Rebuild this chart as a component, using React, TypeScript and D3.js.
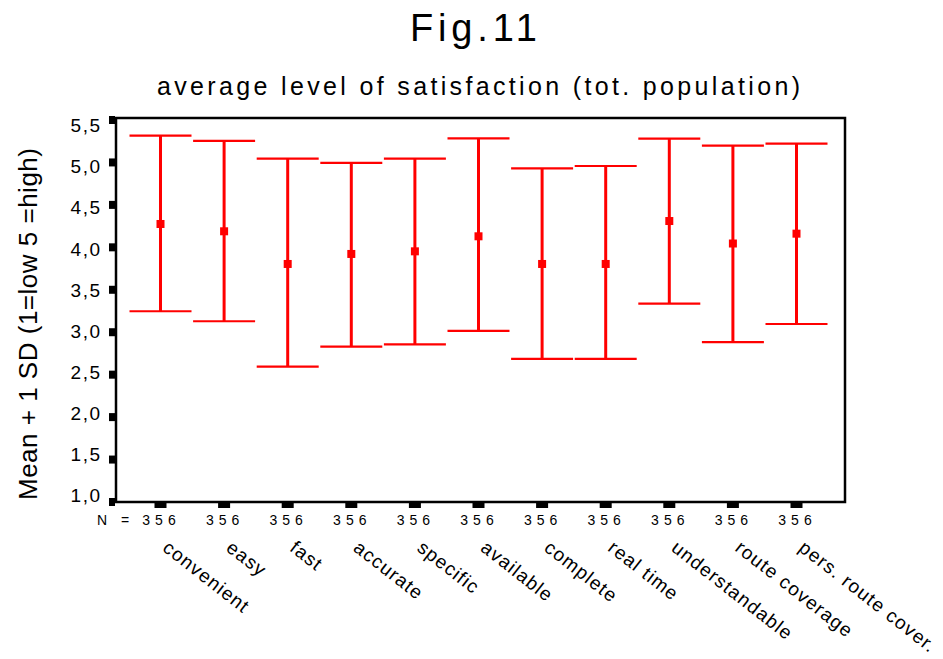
import React, { useEffect, useRef } from 'react';
import * as d3 from 'd3';

// items rated, and the count shown under each
const categories = [
    'convenient', 'easy', 'fast', 'accurate', 'specific', 'available',
    'complete', 'real time', 'understandable', 'route coverage', 'pers. route cover.',
];
const counts = [356, 356, 356, 356, 356, 356, 356, 356, 356, 356, 356];

// mean and the ends of the +/- 1 SD bars
const means = [4.275, 4.189, 3.804, 3.922, 3.953, 4.13, 3.804, 3.804, 4.31, 4.045, 4.161];
const upper = [5.315, 5.253, 5.044, 4.994, 5.044, 5.284, 4.929, 4.958, 5.28, 5.197, 5.221];
const lower = [3.247, 3.129, 2.594, 2.83, 2.858, 3.015, 2.685, 2.685, 3.336, 2.883, 3.097];

const yTicks = [1.0, 1.5, 2.0, 2.5, 3.0, 3.5, 4.0, 4.5, 5.0, 5.5];

const FONT = '"Liberation Sans", Arial, sans-serif';

const App = () => {
    const svgRef = useRef<SVGSVGElement>(null);

    useEffect(() => {
        const svg = d3.select(svgRef.current);
        svg.selectAll('*').remove();

        const frame = { left: 116, right: 845, top: 118, bottom: 502 };

        const x = d3.scalePoint().domain(categories).range([160.5, 796.5]);
        const y = d3.scaleLinear().domain([1, 5.5]).range([502, 120]);
        // tick labels sit on a slightly tighter spacing than the tick marks
        const yLab = d3.scaleLinear().domain([1, 5.5]).range([495, 125.5]);

        const rows = categories.map((c, i) => ({
            c, n: counts[i], mean: means[i], hi: upper[i], lo: lower[i],
        }));

        // titles
        svg.append('text')
            .attr('x', 410).attr('y', 41)
            .attr('textLength', 127).attr('lengthAdjust', 'spacing')
            .style('font-family', FONT).style('font-size', '38px')
            .text('Fig.11');

        svg.append('text')
            .attr('x', 157).attr('y', 95)
            .attr('textLength', 643).attr('lengthAdjust', 'spacing')
            .style('font-family', FONT).style('font-size', '25px')
            .text('average level of satisfaction (tot. population)');

        svg.append('text')
            .attr('transform', 'translate(37,500) rotate(-90)')
            .attr('textLength', 352).attr('lengthAdjust', 'spacing')
            .style('font-family', FONT).style('font-size', '26px')
            .text('Mean + 1 SD (1=low 5 =high)');

        // y ticks: black blocks outside the frame
        svg.append('g')
            .selectAll('rect')
            .data(yTicks)
            .enter()
            .append('rect')
            .attr('x', frame.left - 7)
            .attr('y', d => y(d) - 4)
            .attr('width', 6)
            .attr('height', 8)
            .attr('fill', '#000');

        svg.append('g')
            .selectAll('text')
            .data(yTicks)
            .enter()
            .append('text')
            .attr('x', 101.5)
            .attr('y', d => yLab(d))
            .attr('dy', '0.36em')
            .attr('text-anchor', 'end')
            .style('font-family', FONT).style('font-size', '19px')
            .style('letter-spacing', '1.5px')
            .text(d => d3.format('.1f')(d).replace('.', ','));

        // x ticks
        svg.append('g')
            .selectAll('rect')
            .data(categories)
            .enter()
            .append('rect')
            .attr('x', d => (x(d) as number) - 6)
            .attr('y', frame.bottom + 1)
            .attr('width', 12)
            .attr('height', 5)
            .attr('fill', '#000');

        // frame
        svg.append('rect')
            .attr('x', frame.left).attr('y', frame.top)
            .attr('width', frame.right - frame.left)
            .attr('height', frame.bottom - frame.top)
            .attr('fill', 'none')
            .attr('stroke', '#000')
            .attr('stroke-width', 2.5);

        // N row
        svg.append('text')
            .attr('x', 97).attr('y', 525)
            .style('font-family', FONT).style('font-size', '14px')
            .style('letter-spacing', '5px')
            .text('N =');

        svg.append('g')
            .selectAll('text')
            .data(rows)
            .enter()
            .append('text')
            .attr('x', d => (x(d.c) as number) + 1)
            .attr('y', 525)
            .attr('text-anchor', 'middle')
            .style('font-family', FONT).style('font-size', '14px')
            .style('letter-spacing', '5px')
            .text(d => d.n);

        // category labels, slanted
        svg.append('g')
            .selectAll('text')
            .data(rows)
            .enter()
            .append('text')
            .attr('transform', d => `translate(${(x(d.c) as number) + 1},550) rotate(38)`)
            .style('font-family', FONT).style('font-size', '19px')
            .style('letter-spacing', '1.2px')
            .text(d => d.c);

        // error bars
        const bars = svg.append('g').selectAll('g').data(rows).enter().append('g');
        const capW = 31;

        bars.append('line')
            .attr('x1', d => x(d.c) as number).attr('x2', d => x(d.c) as number)
            .attr('y1', d => y(d.hi)).attr('y2', d => y(d.lo))
            .attr('stroke', '#ff0000').attr('stroke-width', 3);

        bars.append('line')
            .attr('x1', d => (x(d.c) as number) - capW).attr('x2', d => (x(d.c) as number) + capW)
            .attr('y1', d => y(d.hi)).attr('y2', d => y(d.hi))
            .attr('stroke', '#ff0000').attr('stroke-width', 2.2);

        bars.append('line')
            .attr('x1', d => (x(d.c) as number) - capW).attr('x2', d => (x(d.c) as number) + capW)
            .attr('y1', d => y(d.lo)).attr('y2', d => y(d.lo))
            .attr('stroke', '#ff0000').attr('stroke-width', 2.2);

        bars.append('rect')
            .attr('x', d => (x(d.c) as number) - 4)
            .attr('y', d => y(d.mean) - 4)
            .attr('width', 8)
            .attr('height', 8)
            .attr('fill', '#ff0000');
    }, []);

    return (
        <div style={{ position: 'absolute', left: 0, top: 0 }}>
            <svg ref={svgRef} width={943} height={659} style={{ display: 'block', background: '#fff' }} />
        </div>
    );
};

export default App;
